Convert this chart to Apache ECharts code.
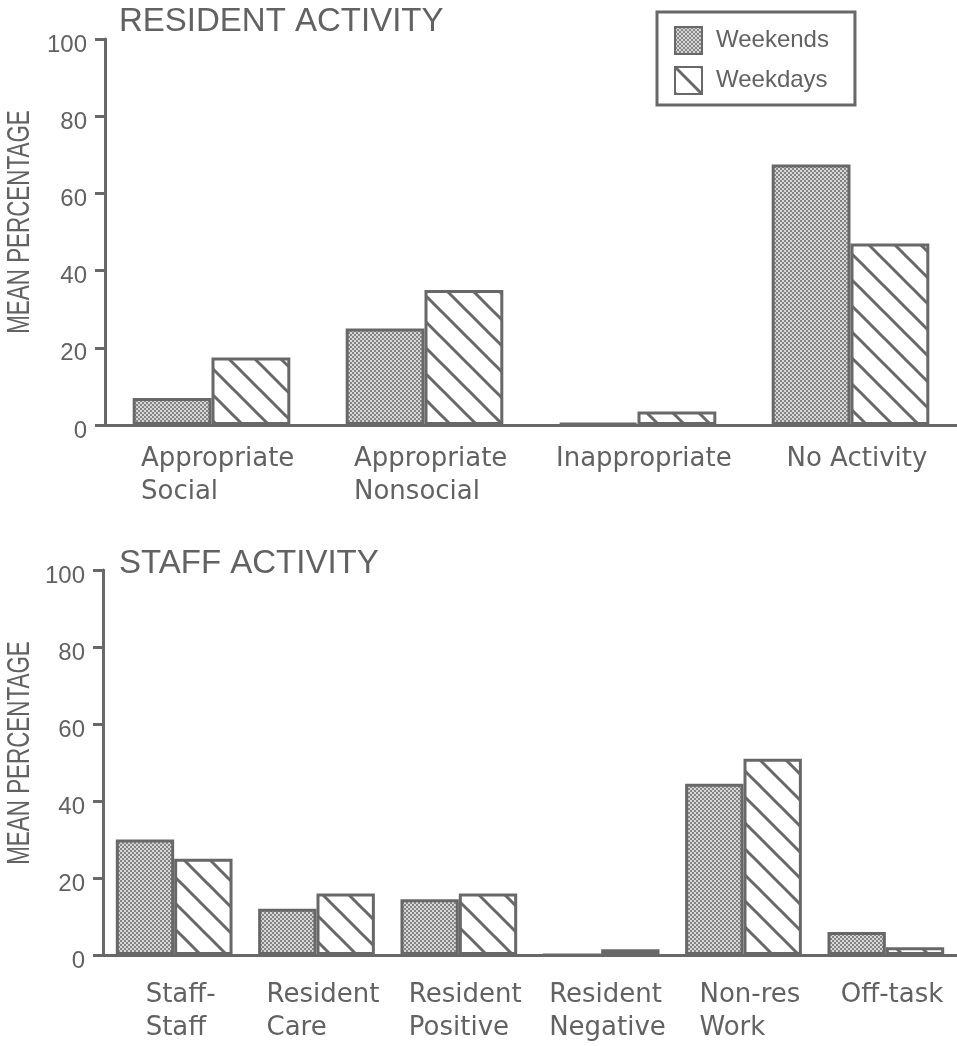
<!DOCTYPE html>
<html>
<head>
<meta charset="utf-8">
<script src="https://cdn.jsdelivr.net/npm/echarts@6/dist/echarts.min.js"></script>
<style>html,body{margin:0;padding:0;background:#fff;}#c{width:957px;height:1046px;}</style>
</head>
<body>
<div id="c"></div>
<script>
// ---- data ----
const residentCategories = ['Appropriate\nSocial', 'Appropriate\nNonsocial', 'Inappropriate', 'No Activity'];
const residentWeekends = [7, 25, 0.5, 67.5];
const residentWeekdays = [17.5, 35, 3.5, 47];
const staffCategories = ['Staff-\nStaff', 'Resident\nCare', 'Resident\nPositive', 'Resident\nNegative', 'Non-res\nWork', 'Off-task'];
const staffWeekends = [30, 12, 14.5, 0, 44.5, 6];
const staffWeekdays = [25, 16, 16, 1.5, 51, 2];
const yTicks = [0, 20, 40, 60, 80, 100];
const seriesNames = ['Weekends', 'Weekdays'];
const titles = ['RESIDENT ACTIVITY', 'STAFF ACTIVITY'];
const yName = 'MEAN PERCENTAGE';

// ---- styles ----
const GRAY = '#686868';
const TEXT = '#626262';
const XFONT = '"DejaVu Sans", sans-serif';
const FONT = '"Liberation Sans", Arial, sans-serif';

function stipple() {
  const c = document.createElement('canvas');
  c.width = 4; c.height = 4;
  const g = c.getContext('2d');
  g.fillStyle = '#d6d6d6'; g.fillRect(0, 0, 4, 4);
  g.fillStyle = '#858585'; g.fillRect(0, 0, 2, 2); g.fillRect(2, 2, 2, 2);
  return c;
}
function hatch() {
  const s = 26;
  const c = document.createElement('canvas');
  c.width = s; c.height = s;
  const g = c.getContext('2d');
  g.fillStyle = '#ffffff'; g.fillRect(0, 0, s, s);
  g.strokeStyle = GRAY; g.lineWidth = 3;
  for (let k = -1; k <= 1; k++) {
    g.beginPath(); g.moveTo(-s, -s + k * s); g.lineTo(2 * s, 2 * s + k * s); g.stroke();
  }
  return c;
}
const fills = [{ image: stipple(), repeat: 'repeat' }, { image: hatch(), repeat: 'repeat' }];

const XSIZE = 26;
const mctx = document.createElement('canvas').getContext('2d');
mctx.font = XSIZE + 'px ' + XFONT;
function buildLabel(cats, key) {
  const rich = {};
  cats.forEach((c, i) => {
    const w = Math.max(...c.split('\n').map(l => mctx.measureText(l).width));
    rich[key + i] = { width: Math.ceil(w) + 1, align: 'left', fontFamily: XFONT, fontSize: XSIZE, color: TEXT, lineHeight: 33 };
  });
  return {
    interval: 0, margin: 0, rich,
    formatter: (v, i) => v.split('\n').map(l => '{' + key + i + '|' + l + '}').join('\n')
  };
}

const grids = [
  { left: 105, top: 39, width: 852, height: 386 },
  { left: 103, top: 570, width: 854, height: 385 }
];

function yAxis(gi) {
  return {
    type: 'value', gridIndex: gi, min: 0, max: 100, interval: 20,
    axisLine: { show: true, lineStyle: { color: GRAY, width: 3 } },
    axisTick: { show: true, length: 10, lineStyle: { color: GRAY, width: 3 } },
    splitLine: { show: false },
    axisLabel: {
      margin: 18, color: TEXT, fontFamily: FONT, fontSize: 24,
      verticalAlign: 'top', lineHeight: 12,
      customValues: yTicks
    }
  };
}
function xAxis(gi, cats, key, topPad) {
  const lab = buildLabel(cats, key);
  lab.margin = topPad;
  lab.padding = [0, 0, 0, 14];
  return {
    type: 'category', gridIndex: gi, data: cats,
    axisLine: { show: true, lineStyle: { color: GRAY, width: 3 } },
    axisTick: { show: false },
    axisLabel: lab
  };
}
function bar(name, gi, data, gap) {
  const idx = seriesNames.indexOf(name);
  return {
    type: 'bar', name, xAxisIndex: gi, yAxisIndex: gi, data,
    barGap: '0%', barCategoryGap: gap,
    itemStyle: { color: fills[idx], borderColor: GRAY, borderWidth: 3 },
    emphasis: { disabled: true },
    animation: false
  };
}

const chart = echarts.init(document.getElementById('c'), null, { renderer: 'canvas' });
chart.setOption({
  backgroundColor: '#ffffff',
  animation: false,
  title: [
    { text: titles[0], left: 119, top: 5, padding: 0, textStyle: { color: TEXT, fontFamily: FONT, fontSize: 33, fontWeight: 'normal' } },
    { text: titles[1], left: 119, top: 547, padding: 0, textStyle: { color: TEXT, fontFamily: FONT, fontSize: 33, fontWeight: 'normal' } }
  ],
  legend: {
    data: seriesNames, orient: 'vertical', left: 657, top: 12,
    padding: [14, 26, 10, 17], itemGap: 11, itemWidth: 27, itemHeight: 27,
    borderColor: GRAY, borderWidth: 3, icon: 'rect',
    textStyle: { color: TEXT, fontFamily: FONT, fontSize: 24, padding: [0, 0, 0, 9] },
    selectedMode: false
  },
  grid: grids,
  xAxis: [xAxis(0, residentCategories, 'r', 18), xAxis(1, staffCategories, 's', 24)],
  yAxis: [yAxis(0), yAxis(1)],
  graphic: [
    { type: 'text', x: 20, y: 222, rotation: Math.PI / 2, scaleX: 0.7, scaleY: 1,
      style: { text: yName, font: '32px ' + FONT, fill: TEXT, align: 'center', verticalAlign: 'middle' } },
    { type: 'text', x: 20, y: 753, rotation: Math.PI / 2, scaleX: 0.7, scaleY: 1,
      style: { text: yName, font: '32px ' + FONT, fill: TEXT, align: 'center', verticalAlign: 'middle' } }
  ],
  series: [
    bar('Weekends', 0, residentWeekends, '26%'),
    bar('Weekdays', 0, residentWeekdays, '26%'),
    bar('Weekends', 1, staffWeekends, '18%'),
    bar('Weekdays', 1, staffWeekdays, '18%')
  ]
});
</script>
</body>
</html>
